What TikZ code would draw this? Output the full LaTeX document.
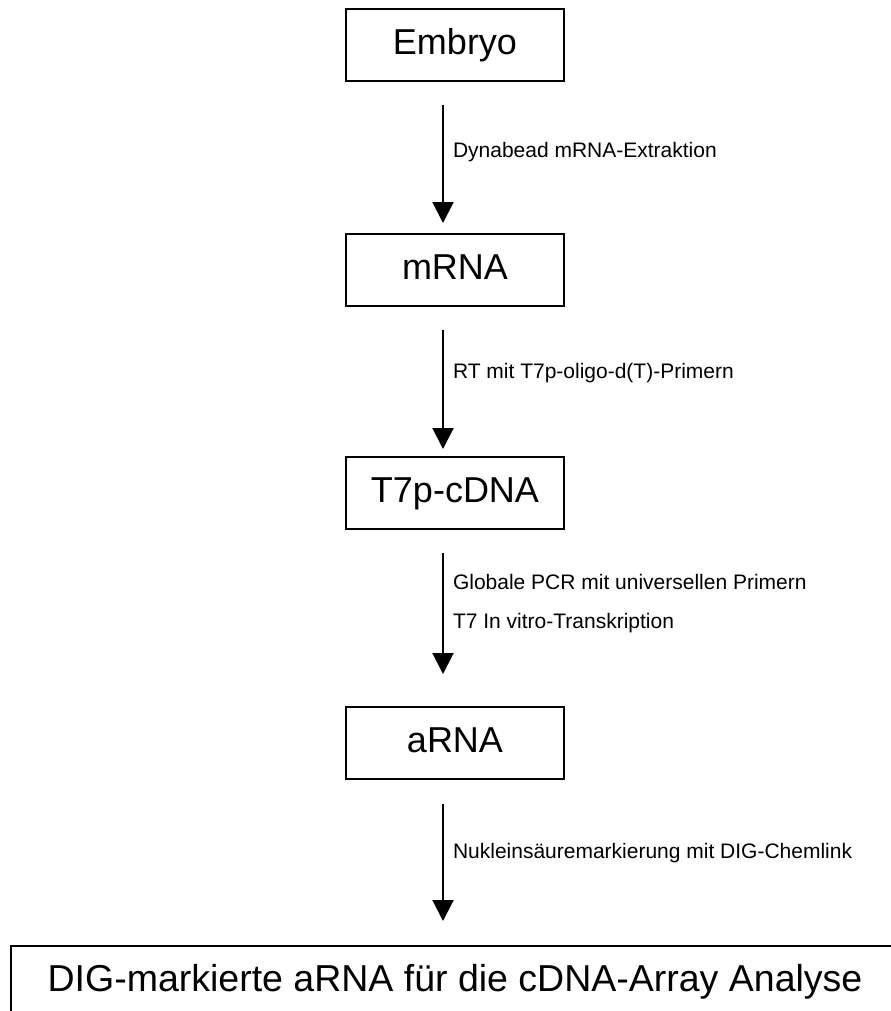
\documentclass[tikz,border=0pt]{standalone}
\usepackage{fontspec}
\setmainfont{Liberation Sans}
\usetikzlibrary{arrows.meta}
\usetikzlibrary{positioning}
\usetikzlibrary{matrix}

\tikzset{
  stage/.style={draw, line width=1pt, outer sep=0pt, inner sep=0pt,
    minimum width=108.5pt, minimum height=36pt,
    text height=13.2pt, text depth=3.8pt,
    font=\fontsize{18}{21.6}\selectfont},
  widestage/.style={stage, minimum width=444pt,
    text height=13.6pt, text depth=4pt,
    font=\fontsize{18.75}{22}\selectfont},
  flow/.style={line width=1pt, -{Triangle[width=10.5pt,length=10.5pt]}},
  steplabel/.style={anchor=west, inner sep=0pt, xshift=4.5pt, align=left,
    font=\fontsize{10.5}{19.5}\selectfont},
}

\begin{document}
\begin{tikzpicture}
\useasboundingbox (0,0) rectangle (445pt,-505.5pt);
\matrix (chain) [matrix of nodes, row sep=0pt, inner sep=0pt, outer sep=0pt,
  anchor=north] at (227.5pt,-4pt)
{
|[stage](emb)| Embryo \\[75.5pt]
|[stage](mrna)| mRNA \\[74.5pt]
|[stage](cdna)| T7p-cDNA \\[88pt]
|[stage](arna)| aRNA \\[82.5pt]
|[widestage](dig)| DIG-markierte aRNA für die cDNA-Array Analyse \\
};
\draw[flow] ([shift={(-6pt,-12pt)}]emb.south) -- node[steplabel, pos=0.40] {Dynabead mRNA-Extraktion} ([shift={(-6pt,5.5pt)}]mrna.north);
\draw[flow] ([shift={(-6pt,-12pt)}]mrna.south) -- node[steplabel, pos=0.36] {RT mit T7p-oligo-d(T)-Primern} ([shift={(-6pt,4pt)}]cdna.north);
\draw[flow] ([shift={(-6pt,-12pt)}]cdna.south) -- node[steplabel, pos=0.42] {Globale PCR mit universellen Primern\\T7 In vitro-Transkription} ([shift={(-6pt,16.5pt)}]arna.north);
\draw[flow] ([shift={(-6pt,-12.5pt)}]arna.south) -- node[steplabel, pos=0.42] {Nukleinsäuremarkierung mit DIG-Chemlink} ([shift={(-6pt,12.5pt)}]dig.north);
\end{tikzpicture}
\end{document}
